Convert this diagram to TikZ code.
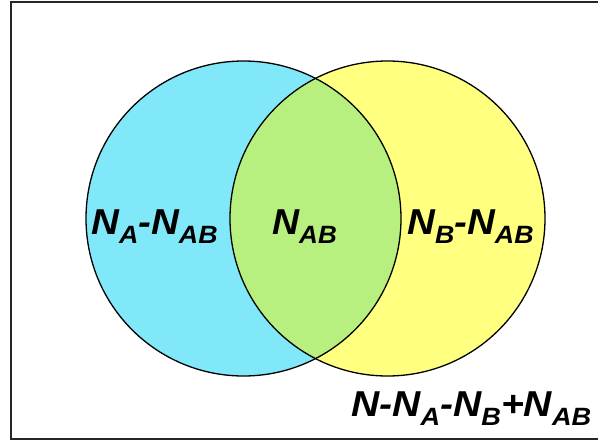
\documentclass[tikz,border=0pt]{standalone}
\usepackage{fontspec}
\usepackage{graphicx}
\setmainfont{Liberation Sans}
\definecolor{cyanfill}{RGB}{128,232,248}
\definecolor{yelfill}{RGB}{255,255,128}
\definecolor{lensfill}{RGB}{184,240,128}
\newcommand{\sbx}[1]{\raisebox{-9pt}{\fontsize{25}{25}\selectfont #1}}
\newcommand{\wide}[2]{\scalebox{#1}[1]{#2}}
\tikzset{
  lbl/.style={anchor=base west, inner sep=0pt, font=\fontsize{36}{36}\selectfont\bfseries\itshape},
  ring/.style={draw=black, line width=1.3pt}
}
\begin{document}
\begin{tikzpicture}[x=1pt,y=-1pt]
\useasboundingbox (0,0) rectangle (598,442);
\fill[white] (0,0) rectangle (598,442);
\coordinate (ca) at (243.5,218.5);
\coordinate (cb) at (387.5,218.5);
\fill[cyanfill] (ca) circle[radius=157.5];
\fill[yelfill] (cb) circle[radius=157.5];
\begin{scope}
  \clip (ca) circle[radius=157.5];
  \fill[lensfill] (cb) circle[radius=157.5];
\end{scope}
\draw[ring] (ca) circle[radius=157.5];
\draw[ring] (cb) circle[radius=157.5];
\draw[line width=2.2pt, draw=black!85] (11,2) rectangle (608,439);
\node[lbl] (la) at (91,234) {\wide{1.07}{N\sbx{A}-N\sbx{AB}}};
\node[lbl] (lab) at (272,234) {\wide{1.04}{N\sbx{AB}}};
\node[lbl] (lb) at (407,234) {\wide{1.07}{N\sbx{B}-N\sbx{AB}}};
\node[lbl] (ln) at (351,416) {\wide{1.085}{N-N\sbx{A}-N\sbx{B}+N\sbx{AB}}};
\end{tikzpicture}
\end{document}
